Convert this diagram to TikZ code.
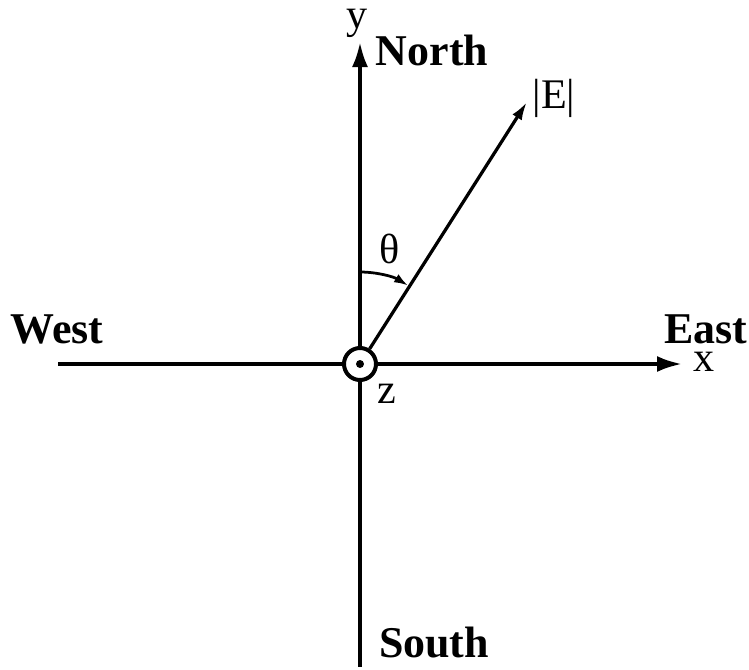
\documentclass[tikz,border=0pt]{standalone}
\usepackage{fontspec}
\setmainfont{Liberation Serif}
\usepackage{tikz}
\usetikzlibrary{arrows.meta}

\begin{document}
\begin{tikzpicture}[
    axis/.style={line width=0.075cm},
    lbl/.style={font=\fontsize{24}{28}\selectfont,inner sep=0pt},
    dirlbl/.style={font=\fontsize{25}{29}\selectfont\bfseries,inner sep=0pt}
  ]
    \useasboundingbox (-7.2,-6.1) rectangle (7.78,7.28);
    % origin, z out of the page
    \node[circle,draw,line width=0.08cm,fill=white,minimum size=0.64cm,inner sep=0pt] (o) at (0,0) {};
    \fill (o.center) circle (0.08);
    \coordinate (xtip) at (6.44,0);
    \coordinate (wend) at (-6.04,0);
    \coordinate (ytip) at (0,6.44);
    \coordinate (send) at (0,-6.06);
    \coordinate (etip) at (57.5:6.21);
    \draw[axis,-{Latex[length=0.5cm,width=0.32cm]}] (o) -- (xtip);
    \draw[axis] (o) -- (wend);
    \draw[axis,-{Latex[length=0.5cm,width=0.32cm]}] (o) -- (ytip);
    \draw[axis] (o) -- (send);
    \draw[line width=0.065cm,-{Latex[length=0.36cm,width=0.22cm]}] (o) -- (etip);
    \draw[line width=0.055cm,-{Latex[length=0.28cm,width=0.19cm]}]
      (o) ++(90:1.84) arc[start angle=90,end angle=58.5,radius=1.84];
    % labels
    \node[lbl] (ylbl) at (-0.05,6.82) {y};
    \node[lbl] (xlbl) at (6.88,0.04) {x};
    \node[lbl] (zlbl) at (0.54,-0.6) {z};
    \node[lbl] (elbl) at (3.88,5.32) {|E|};
    \node[lbl] (thlbl) at (0.6,2.3) {θ};
    \node[dirlbl] (north) at (1.44,6.28) {North};
    \node[dirlbl] (south) at (1.48,-5.58) {South};
    \node[dirlbl] (east) at (6.92,0.7) {East};
    \node[dirlbl] (west) at (-6.06,0.7) {West};
\end{tikzpicture}
\end{document}
